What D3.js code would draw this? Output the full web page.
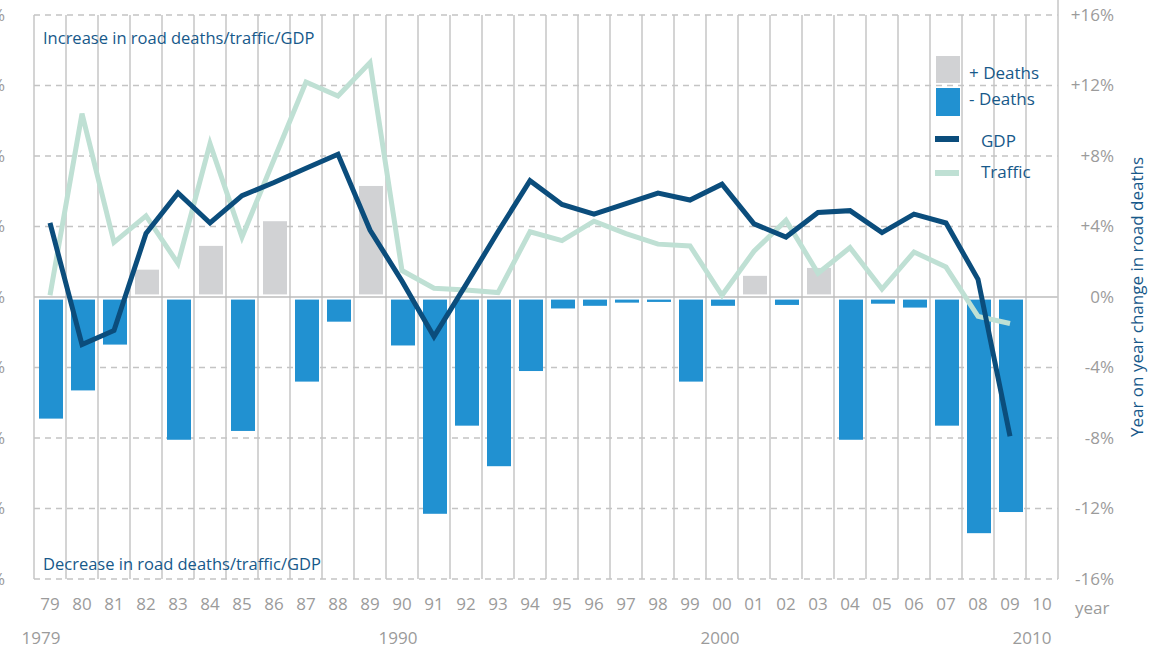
<!DOCTYPE html>
<html>
<head>
<meta charset="utf-8">
<script src="https://cdn.jsdelivr.net/npm/d3@7/dist/d3.min.js"></script>
<style>
  body { margin: 0; background: #fff; }
  svg { display: block; font-family: "Open Sans", sans-serif; }
</style>
</head>
<body>
<div id="chart"></div>
<script>

// years shown on the axis, 1979 .. 2010
var years = [1979, 1980, 1981, 1982, 1983, 1984, 1985, 1986, 1987, 1988, 1989,
    1990, 1991, 1992, 1993, 1994, 1995, 1996, 1997, 1998, 1999,
    2000, 2001, 2002, 2003, 2004, 2005, 2006, 2007, 2008, 2009, 2010];
var yearLabels = ["79", "80", "81", "82", "83", "84", "85", "86", "87", "88", "89",
    "90", "91", "92", "93", "94", "95", "96", "97", "98", "99",
    "00", "01", "02", "03", "04", "05", "06", "07", "08", "09", "10"];
var decadeLabels = ["1979", "1990", "2000", "2010"];

// year on year change (%), 1979 .. 2009
var deaths = [-6.9, -5.3, -2.7, 1.55, -8.1, 2.9, -7.6, 4.3, -4.8, -1.4, 6.3,
    -2.75, -12.3, -7.3, -9.6, -4.2, -0.65, -0.5, -0.32, -0.28, -4.8,
    -0.5, 1.2, -0.45, 1.65, -8.1, -0.38, -0.6, -7.3, -13.4, -12.2];
var gdp = [4.2, -2.7, -1.9, 3.6, 5.9, 4.2, 5.75, 6.5, 7.3, 8.1, 3.8,
    0.9, -2.25, 0.7, 3.7, 6.6, 5.25, 4.7, 5.3, 5.9, 5.5,
    6.4, 4.15, 3.4, 4.8, 4.9, 3.65, 4.7, 4.2, 1.0, -7.9];
var traffic = [0.1, 10.4, 3.1, 4.6, 1.9, 8.7, 3.4, 7.8, 12.2, 11.4, 13.3,
    1.5, 0.5, 0.4, 0.25, 3.7, 3.2, 4.3, 3.6, 3.0, 2.9,
    0.1, 2.6, 4.35, 1.35, 2.8, 0.45, 2.55, 1.7, -1.1, -1.5];

var yTicks = [16, 12, 8, 4, 0, -4, -8, -12, -16];

var colors = {
    up: "#d1d2d4",
    down: "#2191d1",
    gdp: "#0b4d7c",
    traffic: "#bfe0d4",
    text: "#17598a",
    axis: "#9b9b9b",
    grid: "#cacaca"
};

var width = 1152, height = 651;
var plot = { left: 34, right: 1058, top: 15, bottom: 579 };

var svg = d3.select("#chart").append("svg")
    .attr("width", width)
    .attr("height", height);

// Scales
var x = d3.scaleBand()
    .domain(years)
    .range([plot.left, plot.right])
    .padding(0);

var y = d3.scaleLinear()
    .domain([-16, 16])
    .range([plot.bottom, plot.top]);

var bw = x.bandwidth();
function cx(year) { return x(year) + bw / 2; }

// vertical gridlines
svg.append("g")
    .selectAll("line")
    .data(years)
    .enter().append("line")
    .attr("x1", function(d) { return x(d); })
    .attr("x2", function(d) { return x(d); })
    .attr("y1", plot.top)
    .attr("y2", plot.bottom)
    .attr("stroke", colors.grid)
    .attr("stroke-width", 1.6);

// horizontal gridlines
svg.append("g")
    .selectAll("line")
    .data(yTicks)
    .enter().append("line")
    .attr("x1", plot.left)
    .attr("x2", plot.right)
    .attr("y1", function(d) { return y(d); })
    .attr("y2", function(d) { return y(d); })
    .attr("stroke", function(d) { return d === 0 ? "#bdbdbd" : "#c4c4c4"; })
    .attr("stroke-width", 1.4)
    .attr("stroke-dasharray", function(d) { return d === 0 ? null : "6,5"; });

// bars
var barW = 24;
var gap = 2.6;
svg.append("g")
    .selectAll("rect")
    .data(deaths)
    .enter().append("rect")
    .attr("x", function(d, i) { return cx(years[i]) - barW / 2 + 1; })
    .attr("width", barW)
    .attr("y", function(d) { return d > 0 ? y(d) : y(0) + gap; })
    .attr("height", function(d) { return Math.max(0, Math.abs(y(d) - y(0)) - gap); })
    .attr("fill", function(d) { return d > 0 ? colors.up : colors.down; });

// lines
var line = d3.line()
    .x(function(d, i) { return cx(years[i]); })
    .y(function(d) { return y(d); });

svg.append("path")
    .datum(traffic)
    .attr("d", line)
    .attr("fill", "none")
    .attr("stroke", colors.traffic)
    .attr("stroke-width", 5);

svg.append("path")
    .datum(gdp)
    .attr("d", line)
    .attr("fill", "none")
    .attr("stroke", colors.gdp)
    .attr("stroke-width", 5);

// right axis
var yAxis = d3.axisRight(y)
    .tickValues(yTicks)
    .tickSize(0)
    .tickFormat(function(d) { return (d > 0 ? "+" : "") + d + "%"; });

var ra = svg.append("g")
    .attr("transform", "translate(" + plot.right + ",0)")
    .call(yAxis);
ra.select(".domain")
    .attr("stroke", colors.grid)
    .attr("stroke-width", 1.6)
    .attr("d", "M0,0V" + plot.bottom);
ra.selectAll("text")
    .attr("x", 56)
    .attr("text-anchor", "end")
    .attr("fill", colors.axis)
    .style("font-size", "17px")
    .style("font-family", "'Open Sans', sans-serif");

// left axis (clipped at the page edge)
svg.append("g")
    .selectAll("text")
    .data(yTicks)
    .enter().append("text")
    .attr("x", 5)
    .attr("y", function(d) { return y(d); })
    .attr("dy", "0.35em")
    .attr("text-anchor", "end")
    .attr("fill", colors.axis)
    .style("font-size", "17px")
    .text(function(d) { return Math.abs(d) + "%"; });

// x axis labels
var xAxis = d3.axisBottom(x)
    .tickSize(0)
    .tickFormat(function(d, i) { return yearLabels[i]; });

var xa = svg.append("g")
    .attr("transform", "translate(0," + plot.bottom + ")")
    .call(xAxis);
xa.select(".domain").remove();
xa.selectAll("text")
    .attr("y", 19)
    .attr("dy", "0.71em")
    .attr("fill", colors.axis)
    .style("font-size", "17px")
    .style("font-family", "'Open Sans', sans-serif");

svg.append("text")
    .attr("x", plot.right + 17)
    .attr("y", 614)
    .attr("fill", colors.axis)
    .style("font-size", "17px")
    .text("year");

// decade labels
var decadeOffset = [-9, -4, -2, -10];
svg.append("g")
    .selectAll("text")
    .data(decadeLabels)
    .enter().append("text")
    .attr("x", function(d, i) { return cx(+d) + decadeOffset[i]; })
    .attr("y", 644)
    .attr("text-anchor", "middle")
    .attr("fill", colors.axis)
    .style("font-size", "17px")
    .text(function(d) { return d; });

// annotations
svg.append("text")
    .attr("x", 43)
    .attr("y", 44)
    .attr("fill", colors.text)
    .style("font-size", "16.5px")
    .text("Increase in road deaths/traffic/GDP");

svg.append("text")
    .attr("x", 43)
    .attr("y", 570)
    .attr("fill", colors.text)
    .style("font-size", "16.5px")
    .text("Decrease in road deaths/traffic/GDP");

svg.append("text")
    .attr("transform", "translate(1143," + y(0) + ") rotate(-90)")
    .attr("text-anchor", "middle")
    .attr("fill", colors.text)
    .style("font-size", "17px")
    .text("Year on year change in road deaths");

// legend
var legend = svg.append("g");
legend.append("rect")
    .attr("x", 936).attr("y", 56)
    .attr("width", 24).attr("height", 27)
    .attr("fill", colors.up);
legend.append("rect")
    .attr("x", 936).attr("y", 88)
    .attr("width", 24).attr("height", 28)
    .attr("fill", colors.down);
legend.append("line")
    .attr("x1", 935).attr("x2", 959)
    .attr("y1", 139).attr("y2", 139)
    .attr("stroke", colors.gdp)
    .attr("stroke-width", 6);
legend.append("line")
    .attr("x1", 935).attr("x2", 959)
    .attr("y1", 173).attr("y2", 173)
    .attr("stroke", colors.traffic)
    .attr("stroke-width", 6);

var legendText = [
    { t: "+ Deaths", x: 969, y: 79 },
    { t: "- Deaths", x: 969, y: 105 },
    { t: "GDP", x: 981, y: 147 },
    { t: "Traffic", x: 981, y: 178 }
];
legend.selectAll("text.lt")
    .data(legendText)
    .enter().append("text")
    .attr("class", "lt")
    .attr("x", function(d) { return d.x; })
    .attr("y", function(d) { return d.y; })
    .attr("fill", colors.text)
    .style("font-size", "17px")
    .text(function(d) { return d.t; });

</script>
</body>
</html>
